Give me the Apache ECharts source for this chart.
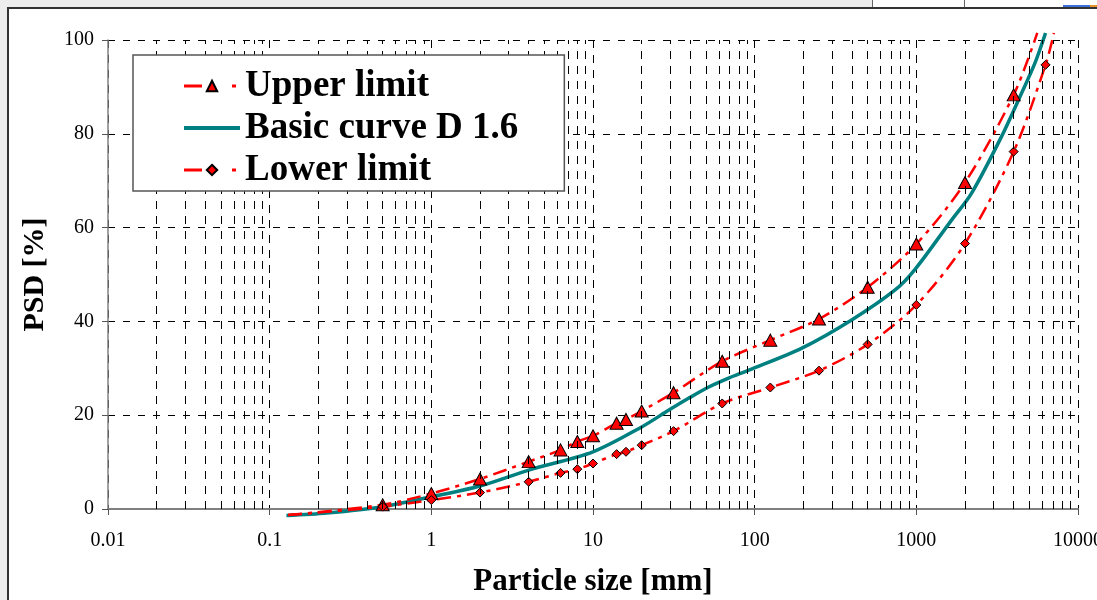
<!DOCTYPE html>
<html>
<head>
<meta charset="utf-8">
<script src="https://cdn.jsdelivr.net/npm/echarts@6/dist/echarts.min.js"></script>
<style>
  html, body { margin:0; padding:0; background:#ededed; width:1097px; height:600px; overflow:hidden; }
  #frame { position:absolute; left:7px; top:7px; width:1088px; height:591px; background:#fff;
           border-left:2px solid #333; border-top:2px solid #333; }
  #tab1 { position:absolute; left:872px; top:0; width:91px; height:7px; background:#fff;
          border-left:1px solid #666; border-right:1px solid #666; }
  #tab2 { position:absolute; left:965px; top:0; width:132px; height:7px; background:#fff; }
  #tab3 { position:absolute; left:1063px; top:5px; width:27px; height:2px; background:#3a6fd8; }
  #tab4 { position:absolute; left:1090px; top:5px; width:7px; height:2px; background:#e8902a; }
  #chart { position:absolute; left:0; top:0; width:1097px; height:600px; }
</style>
</head>
<body>
<div id="frame"></div>
<div id="tab1"></div><div id="tab2"></div><div id="tab3"></div><div id="tab4"></div>
<div id="chart"></div>
<script>
// ---- data ----
const xTickLabels = ['0.01', '0.1', '1', '10', '100', '1000', '10000'];
const yTickLabels = ['0', '20', '40', '60', '80', '100'];

const sieveSizes = [0.5, 1, 2, 4, 6.3, 8, 10, 14, 16, 20, 31.5, 63, 125, 250, 500, 1000, 2000, 4000];
const upperValues = [0.9, 3.3, 6.4, 10.1, 12.6, 14.4, 15.6, 18.3, 19.1, 20.9, 24.8, 31.5, 36.0, 40.5, 47.3, 56.5, 69.6, 88.3];
const lowerValues = [0.5, 1.9, 3.5, 5.8, 7.7, 8.5, 9.7, 11.7, 12.2, 13.6, 16.6, 22.5, 25.9, 29.5, 35.1, 43.5, 56.6, 76.2];

const limitStart = [0.13, -1.3];          // curve start (no marker)
const upperEnd = [5600, 101.5];           // curve end (no marker)
const lowerExtraSize = 6300, lowerExtraValue = 94.7;
const lowerEnd = [7100, 101.5];

const basicX = [0.127, 0.225, 0.5, 1, 2, 4, 10, 20, 29.5, 39, 52, 69, 92, 196, 398, 739, 982, 1651, 2193, 3363, 4467, 5405, 6300];
const basicY = [-1.4, -0.85, 0.5, 2.6, 4.9, 8.3, 12.2, 17.5, 21.1, 23.6, 26.0, 27.9, 29.6, 34.3, 40.3, 46.7, 51.1, 61.6, 67.3, 79.4, 88.6, 95.0, 101.5];

const seriesNames = ['Upper limit', 'Basic curve D 1.6', 'Lower limit'];

// minor grid positions 2..9 x 10^k
const minorGridX = [];
for (let k = -2; k <= 3; k++) for (let m = 2; m <= 9; m++) minorGridX.push(+(m * Math.pow(10, k)).toPrecision(3));

// ---- build ----
const noSym = p => ({ value: p, symbol: 'none' });
const upperData = [noSym(limitStart)].concat(sieveSizes.map((x, i) => [x, upperValues[i]])).concat([noSym(upperEnd)]);
const lowerData = [noSym(limitStart)].concat(sieveSizes.map((x, i) => [x, lowerValues[i]]))
  .concat([[lowerExtraSize, lowerExtraValue], noSym(lowerEnd)]);
const basicData = basicX.map((x, i) => [x, basicY[i]]);

const serif = 'Liberation Serif, Times New Roman, serif';
const redDash = [14, 6, 4, 6];

const chart = echarts.init(document.getElementById('chart'), null, { renderer: 'canvas' });
chart.setOption({
  backgroundColor: 'transparent',
  animation: false,
  grid: { left: 108, right: 19, top: 40, bottom: 91, containLabel: false, outerBoundsMode: 'none' },
  legend: {
    orient: 'vertical', left: 133, top: 55, z: 50, zlevel: 0,
    data: [
      { name: seriesNames[0], lineStyle: { width: 3, type: [18, 30, 4, 10] } },
      { name: seriesNames[1], itemStyle: { opacity: 0 }, lineStyle: { width: 4 } },
      { name: seriesNames[2], lineStyle: { width: 3, type: [18, 30, 4, 10] } }
    ],
    backgroundColor: '#ffffff', borderColor: '#555', borderWidth: 1.5, borderRadius: 0,
    padding: [10, 46, 0, 49], itemGap: 0, itemWidth: 56, itemHeight: 13,
    selectedMode: false,
    textStyle: { fontFamily: serif, fontWeight: 'bold', fontSize: 37, color: '#000', lineHeight: 42 }
  },
  xAxis: {
    type: 'log', logBase: 10, min: 0.01, max: 10000, splitNumber: 6,
    axisLine: { show: true, onZero: false, lineStyle: { color: '#808080', width: 2 } },
    axisTick: { show: true, length: 6, lineStyle: { color: '#555' } },
    axisLabel: { margin: 22, fontFamily: serif, fontSize: 20, color: '#000',
      formatter: v => xTickLabels[Math.round(Math.log10(v)) + 2] },
    splitLine: { show: true, lineStyle: { type: [8, 7], color: '#000', width: 1 } },
    name: 'Particle size [mm]', nameLocation: 'middle', nameGap: 57,
    nameTextStyle: { fontFamily: serif, fontWeight: 'bold', fontSize: 31, color: '#000' }
  },
  yAxis: {
    type: 'value', min: 0, max: 100, interval: 20,
    axisLine: { show: true, lineStyle: { color: '#808080', width: 1.5 } },
    axisTick: { show: true, length: 6, lineStyle: { color: '#555' } },
    axisLabel: { margin: 14, fontFamily: serif, fontSize: 20, color: '#000',
      formatter: v => yTickLabels[Math.round(v / 20)] },
    splitLine: { show: true, lineStyle: { type: [7, 8], color: '#000', width: 1 } },
    name: 'PSD [%]', nameLocation: 'middle', nameGap: 58,
    nameTextStyle: { fontFamily: serif, fontWeight: 'bold', fontSize: 30, color: '#000' }
  },
  series: [
    {
      name: 'minorGrid', type: 'line', data: [], silent: true, z: 1,
      markLine: {
        silent: true, symbol: 'none', animation: false,
        label: { show: false },
        lineStyle: { type: [8, 7], color: '#000', width: 1 },
        data: minorGridX.map(v => ({ xAxis: v }))
      }
    },
    {
      name: seriesNames[0], type: 'line', data: upperData, smooth: 0.3, clip: false, z: 4,
      symbol: 'triangle', symbolSize: [13, 12],
      itemStyle: { color: '#ff0000', borderColor: '#000', borderWidth: 1 },
      lineStyle: { color: '#ff0000', width: 2.5, type: redDash }
    },
    {
      name: seriesNames[1], type: 'line', data: basicData, smooth: 0.3, clip: false, z: 3,
      symbol: 'none', showSymbol: false,
      itemStyle: { color: '#008080' },
      lineStyle: { color: '#008080', width: 3.5 }
    },
    {
      name: seriesNames[2], type: 'line', data: lowerData, smooth: 0.3, clip: false, z: 4,
      symbol: 'diamond', symbolSize: 9,
      itemStyle: { color: '#ff0000', borderColor: '#000', borderWidth: 1 },
      lineStyle: { color: '#ff0000', width: 2.5, type: redDash }
    }
  ]
});
</script>
</body>
</html>
